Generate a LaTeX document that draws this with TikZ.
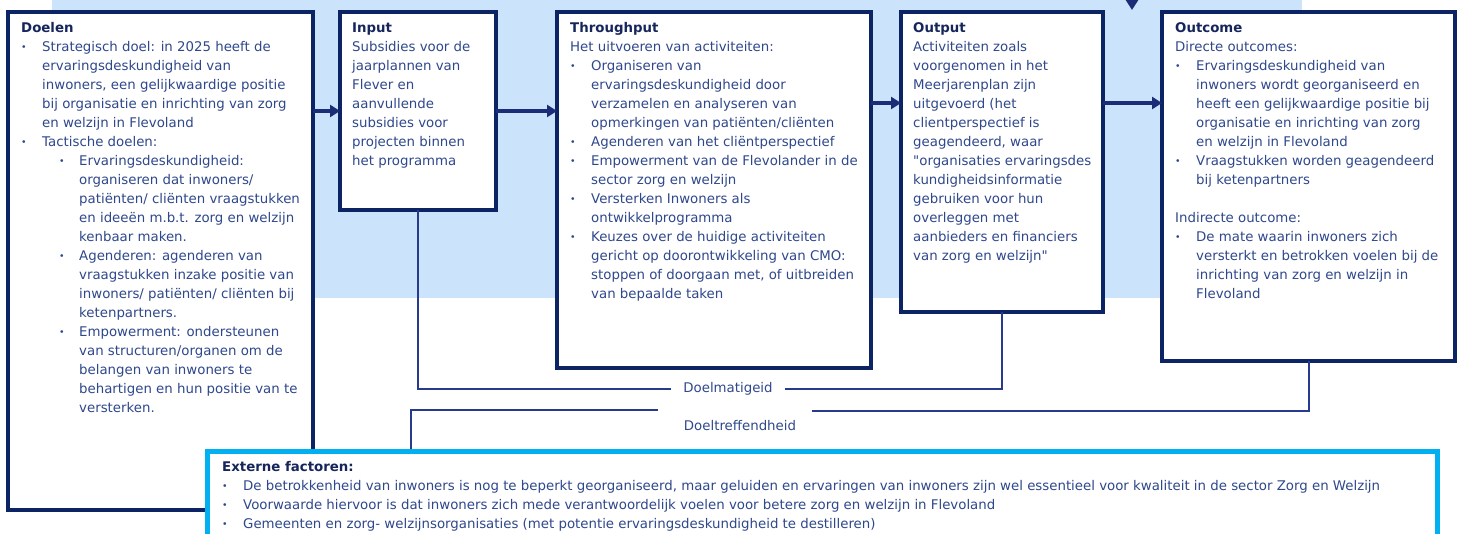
\documentclass[tikz,border=0pt]{standalone}
\usepackage{graphicx}
\usepackage{fontspec}
\setmainfont{DejaVu Sans}[Ligatures=TeXOff]
\newfontfamily\tahfont{DejaVu Sans}[Ligatures=TeXOff]
\usetikzlibrary{arrows.meta}
\definecolor{bgblue}{RGB}{204,228,251}
\definecolor{navy}{RGB}{13,36,100}
\definecolor{txtblue}{RGB}{47,72,140}
\definecolor{ttlblue}{RGB}{22,38,92}
\definecolor{connblue}{RGB}{40,58,140}
\definecolor{cyanb}{RGB}{0,176,240}
\definecolor{arrblue}{RGB}{28,45,120}
\newcommand{\dotb}{\raisebox{1pt}{\scalebox{0.7}{•}}}
\newcommand{\bl}{\makebox[21pt][l]{\dotb}}
\newcommand{\ind}{\hspace*{21pt}}
\newcommand{\sbl}{\hspace*{38pt}\makebox[20pt][l]{\dotb}}
\newcommand{\sind}{\hspace*{58pt}}
\newcommand{\ttl}[1]{\rule{0pt}{14pt}{\bfseries\color{ttlblue}#1}}
\begin{document}
\begin{tikzpicture}[x=1pt,y=-1pt,
  box/.style={draw=navy, line width=4pt, fill=white, anchor=north west, inner sep=0pt, outer sep=0pt},
  extbox/.style={draw=cyanb, line width=5pt, fill=white, anchor=north west, inner sep=0pt, outer sep=0pt},
  txt/.style={anchor=north west, inner sep=0pt, align=left, text=txtblue, font=\fontsize{13.33}{19}\selectfont},
  arr/.style={draw=arrblue, line width=4pt, -{Triangle[length=10pt,width=12pt]}},
  conn/.style={draw=connblue, line width=2pt},
  lab/.style={text=txtblue, font=\fontsize{13.33}{19}\selectfont, inner xsep=12pt, inner ysep=2pt}]
\clip (0,0) rectangle (1458,534);
\fill[bgblue] (52,0) rectangle (1302,298);

% boxes
\node[box, minimum width=305, minimum height=498] (doelen) at (8,12) {};
\node[box, minimum width=156, minimum height=198] (inp) at (340,12) {};
\node[box, minimum width=314, minimum height=356] (thr) at (557,12) {};
\node[box, minimum width=202, minimum height=300] (outp) at (901,12) {};
\node[box, minimum width=293, minimum height=349] (outc) at (1162,12) {};

% texts
\node[txt] (doelen-t) at (21,18) {\ttl{Doelen}\\
\bl Strategisch doel: in 2025 heeft de\\
\ind ervaringsdeskundigheid van\\
\ind inwoners, een gelijkwaardige positie\\
\ind bij organisatie en inrichting van zorg\\
\ind en welzijn in Flevoland\\
\bl Tactische doelen:\\
\sbl Ervaringsdeskundigheid:\\
\sind organiseren dat inwoners/\\
\sind patiënten/ cliënten vraagstukken\\
\sind en ideeën m.b.t. zorg en welzijn\\
\sind kenbaar maken.\\
\sbl Agenderen: agenderen van\\
\sind vraagstukken inzake positie van\\
\sind inwoners/ patiënten/ cliënten bij\\
\sind ketenpartners.\\
\sbl Empowerment: ondersteunen\\
\sind van structuren/organen om de\\
\sind belangen van inwoners te\\
\sind behartigen en hun positie van te\\
\sind versterken.};

\node[txt] (inp-t) at (352,18) {\ttl{Input}\\
Subsidies voor de\\
jaarplannen van\\
Flever en\\
aanvullende\\
subsidies voor\\
projecten binnen\\
het programma};

\node[txt] (thr-t) at (570,18) {\ttl{Throughput}\\
Het uitvoeren van activiteiten:\\
\bl Organiseren van\\
\ind ervaringsdeskundigheid door\\
\ind verzamelen en analyseren van\\
\ind opmerkingen van patiënten/cliënten\\
\bl Agenderen van het cliëntperspectief\\
\bl Empowerment van de Flevolander in de\\
\ind sector zorg en welzijn\\
\bl Versterken Inwoners als\\
\ind ontwikkelprogramma\\
\bl Keuzes over de huidige activiteiten\\
\ind gericht op doorontwikkeling van CMO:\\
\ind stoppen of doorgaan met, of uitbreiden\\
\ind van bepaalde taken};

\node[txt] (outp-t) at (913,18) {\ttl{Output}\\
Activiteiten zoals\\
voorgenomen in het\\
Meerjarenplan zijn\\
uitgevoerd (het\\
clientperspectief is\\
geagendeerd, waar\\
"organisaties ervaringsdes\\
kundigheidsinformatie\\
gebruiken voor hun\\
overleggen met\\
aanbieders en financiers\\
van zorg en welzijn"};

\node[txt] (outc-t) at (1175,18) {\ttl{Outcome}\\
Directe outcomes:\\
\bl Ervaringsdeskundigheid van\\
\ind inwoners wordt georganiseerd en\\
\ind heeft een gelijkwaardige positie bij\\
\ind organisatie en inrichting van zorg\\
\ind en welzijn in Flevoland\\
\bl Vraagstukken worden geagendeerd\\
\ind bij ketenpartners\\
\mbox{}\\
Indirecte outcome:\\
\bl De mate waarin inwoners zich\\
\ind versterkt en betrokken voelen bij de\\
\ind inrichting van zorg en welzijn in\\
\ind Flevoland};

% arrows
\coordinate (row2) at (0,103);
\coordinate (topA) at (1132,-4);
\coordinate (topB) at (1132,10);
\draw[arr] (doelen.east |- inp.west) -- (inp.west);
\draw[arr] (inp.east) -- (inp.east -| thr.west);
\draw[arr] (thr.east |- row2) -- (outp.west |- row2);
\draw[arr] (outp.east |- row2) -- (outc.west |- row2);
\draw[arr] (topA) -- (topB);

% feedback lines
\node[lab] (dm) at (728,389) {Doelmatigeid};
\draw[conn] (inp.south) |- (dm.west);
\draw[conn] (dm.east) -| (outp.south);

\node[lab] (dt) at (740,426) {Doeltreffendheid};
\coordinate (dtA) at (411,451);
\coordinate (dtL) at (658,410);
\coordinate (dtR) at (812,411);
\draw[conn] (dtA) |- (dtL);
\draw[conn] (dtR) -| (outc.south);

% externe factoren
\node[extbox, minimum width=1230, minimum height=120] (ext) at (207,451) {};
\node[txt, font=\tahfont\fontsize{13.33}{19}\selectfont] (ext-t) at (222,457) {\ttl{Externe factoren:}\\
\makebox[21pt][l]{\dotb}De betrokkenheid van inwoners is nog te beperkt georganiseerd, maar geluiden en ervaringen van inwoners zijn wel essentieel voor kwaliteit in de sector Zorg en Welzijn\\
\makebox[21pt][l]{\dotb}Voorwaarde hiervoor is dat inwoners zich mede verantwoordelijk voelen voor betere zorg en welzijn in Flevoland\\
\makebox[21pt][l]{\dotb}Gemeenten en zorg- welzijnsorganisaties (met potentie ervaringsdeskundigheid te destilleren)};
\end{tikzpicture}
\end{document}
